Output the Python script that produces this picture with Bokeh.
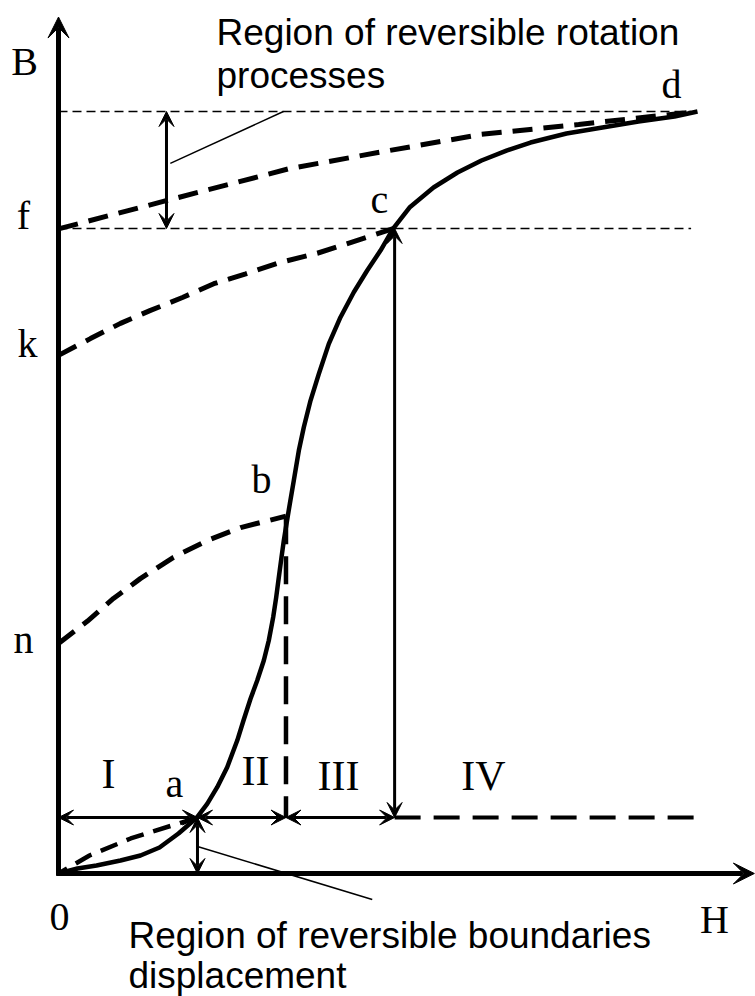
from bokeh.plotting import figure
from bokeh.models import Range1d, Arrow, VeeHead
from bokeh.core.properties import value
from bokeh.embed import file_html
from bokeh.resources import INLINE

# ---------------- data (H, B in arbitrary units) ----------------
# initial magnetisation curve 0-a-b-c-d
curve_H = [0, 2.97, 5.95, 9.70, 12.83, 15.81, 18.78, 21.71, 23.27, 24.84, 26.40, 27.97,
           28.95, 30.05, 31.10, 32.13, 32.91, 33.60, 34.07, 34.48, 34.90, 35.26, 35.68,
           36.20, 36.82, 37.61, 38.39, 39.44, 40.74, 42.30, 44.13, 46.21, 48.31, 50.39,
           52.40, 54.93, 58.69, 62.44, 66.20, 70.11, 73.87, 79.50, 85.13, 90.77, 96.40, 100]
curve_B = [0, 0.66, 1.05, 1.71, 2.36, 3.41, 5.25, 7.39, 9.15, 11.33, 13.95, 17.45,
           20.08, 22.93, 25.33, 27.95, 30.58, 33.64, 36.26, 38.88, 41.51, 43.70, 45.89,
           48.52, 51.57, 55.51, 58.57, 62.07, 65.58, 69.51, 73.01, 76.29, 79.13, 81.76,
           84.65, 87.40, 90.03, 92.00, 93.57, 94.88, 95.93, 97.11, 97.90, 98.69, 99.34, 100]

# reversible (return) curves, dashed
fd_H = [0, 16.4, 36.1, 51.2, 66.2, 81.4, 100]
fd_B = [84.6, 88.2, 92.5, 94.8, 97.0, 98.3, 100]
kc_H = [0, 5.0, 9.7, 14.4, 19.4, 24.3, 29.3, 34.3, 40.5, 52.5]
kc_B = [68.0, 70.2, 72.2, 73.9, 75.6, 77.4, 78.7, 80.1, 81.4, 84.65]
nb_H = [0, 4.5, 8.6, 12.8, 18.0, 23.3, 28.5, 35.6]
nb_B = [30.2, 33.1, 36.1, 38.7, 41.5, 43.7, 45.4, 46.9]
oa_H = [0, 4.85, 11.3, 21.75]
oa_B = [0, 2.36, 4.6, 7.35]

# characteristic points
H_a, B_a = 21.75, 7.35
H_b, B_b = 35.6, 46.9
H_c, B_c = 52.6, 84.65
H_d, B_d = 100.0, 100.0
H_top_arrow = 16.9
H_axis_end, B_axis_end = 108.9, 112.4

# point labels (H, B of text centre)
pt_labels = ["B", "f", "k", "n", "0", "H", "d", "c", "b", "a"]
pt_H = [-5.32, -5.48, -4.85, -5.48, 0.16, 102.66, 95.93, 50.23, 31.77, 18.15]
pt_B = [106.52, 86.42, 69.52, 30.72, -5.66, -6.05, 103.52, 88.42, 51.72, 11.79]

reg_labels = ["I", "II", "III", "IV"]
reg_H = [7.82, 30.83, 43.82, 66.51]
reg_B = [13.06, 13.46, 12.80, 12.80]

note_lines = ["Region of reversible rotation", "processes",
              "Region of reversible boundaries", "displacement"]
note_H = [24.73, 24.73, 10.95, 10.95]
note_B = [110.34, 104.70, -8.16, -13.41]

# leader lines
lead_top_H, lead_top_B = [17.5, 35.2], [93.2, 100.0]
lead_bot_H, lead_bot_B = [21.75, 49.1], [3.54, -3.4]

# ---------------- figure ----------------
p = figure(width=755, height=996, output_backend="svg", toolbar_location=None,
           x_range=Range1d(-9.077, 109.077), y_range=Range1d(-16.14, 114.57),
           x_axis_type=None, y_axis_type=None, min_border=0)
p.grid.visible = False
p.outline_line_color = None
p.background_fill_color = "white"

black = "black"

# thin dashed reference lines
p.line([0, 99], [B_d, B_d], line_color=black, line_width=1.6, line_dash="9 5")
p.line([0, 99], [B_c, B_c], line_color=black, line_width=1.6, line_dash="9 5")

# dashed reversible curves
for hh, bb in [(fd_H, fd_B), (kc_H, kc_B), (nb_H, nb_B)]:
    p.line(hh, bb, line_color=black, line_width=5, line_dash="20 11")
p.line(oa_H, oa_B, line_color=black, line_width=4.5, line_dash="18 10", line_dash_offset=8)

# vertical dashed at b, horizontal dashed after c
p.line([H_b, H_b], [B_b, B_a], line_color=black, line_width=4.5, line_dash="28 12")
p.line([H_c, 100.5], [B_a, B_a], line_color=black, line_width=4, line_dash="26 13")

# main curve
p.line(curve_H, curve_B, line_color=black, line_width=4.5, line_join="round")

# leader lines
p.line(lead_top_H, lead_top_B, line_color=black, line_width=1.5)
p.line(lead_bot_H, lead_bot_B, line_color=black, line_width=1.5)

# axes with arrows
p.add_layout(Arrow(x_start=0, y_start=-0.3, x_end=0, y_end=B_axis_end, line_width=5,
                   line_color=black,
                   end=VeeHead(size=21, fill_color=black, line_color=black, line_width=1)))
p.add_layout(Arrow(x_start=-0.3, y_start=0, x_end=H_axis_end, y_end=0, line_width=5,
                   line_color=black,
                   end=VeeHead(size=21, fill_color=black, line_color=black, line_width=1)))


def dbl(x0, y0, x1, y1, w=3, s=15):
    p.add_layout(Arrow(x_start=x0, y_start=y0, x_end=x1, y_end=y1, line_width=w,
                       line_color=black,
                       start=VeeHead(size=s, fill_color=black, line_color=black, line_width=1),
                       end=VeeHead(size=s, fill_color=black, line_color=black, line_width=1)))


dbl(0, B_a, H_a, B_a)
dbl(H_a, B_a, H_b, B_a)
dbl(H_b, B_a, H_c, B_a)
dbl(H_c, B_c, H_c, B_a)
dbl(H_a, B_a, H_a, 0)
dbl(H_top_arrow, B_d, H_top_arrow, B_c)

# labels
serif = value("Liberation Serif")
sans = value("Liberation Sans")
p.text(x=pt_H, y=pt_B, text=pt_labels, text_font=serif, text_font_size="40px",
       text_align="center", text_baseline="middle", text_color=black)
p.text(x=reg_H, y=reg_B, text=reg_labels, text_font=serif, text_font_size="42px",
       text_align="center", text_baseline="middle", text_color=black)
p.text(x=note_H, y=note_B, text=note_lines, text_font=sans, text_font_size="37px",
       text_align="left", text_baseline="middle", text_color=black)

open("out.html", "w").write(file_html(p, INLINE))
